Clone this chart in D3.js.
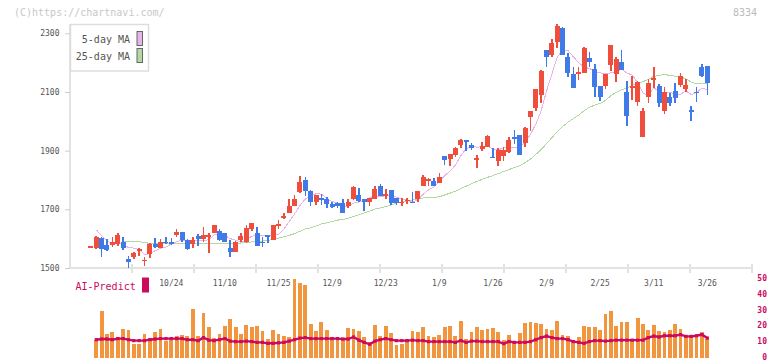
<!DOCTYPE html>
<html>
<head>
<meta charset="utf-8">
<script src="https://cdn.jsdelivr.net/npm/d3@7"></script>
<style>
  body { margin: 0; background: #fff; }
  svg { display: block; font-family: "DejaVu Sans Mono", monospace; }
</style>
</head>
<body>
<svg id="chart"></svg>
<script>
// ===========================================================================
//     data area
// ===========================================================================
const openP = [1574, 1568, 1601, 1578, 1577, 1583, 1589, 1531, 1539, 1559,
  1526, 1548, 1582, 1568, 1590, 1589, 1612, 1623, 1595, 1582,
  1609, 1600, 1606, 1618, 1626, 1620, 1568, 1556, 1595, 1590,
  1632, 1618, 1590, 1614, 1595, 1645, 1670, 1686, 1711, 1760,
  1800, 1761, 1726, 1738, 1735, 1718, 1721, 1723, 1712, 1734,
  1749, 1735, 1726, 1735, 1780, 1744, 1766, 1738, 1722, 1729,
  1726, 1735, 1781, 1795, 1798, 1791, 1882, 1873, 1885, 1918,
  1937, 1919, 1868, 1907, 1914, 1880, 1866, 1882, 1896, 1948,
  1954, 1927, 2016, 2047, 2088, 2243, 2227, 2271, 2318, 2220,
  2161, 2160, 2166, 2215, 2178, 2120, 2121, 2192, 2161, 2201,
  2101, 2117, 2067, 1948, 2084, 2142, 2121, 2035, 2082, 2103,
  2124, 2110, 2037, 2101, 2185, 2189];
const highP = [1574, 1608, 1605, 1599, 1607, 1620, 1607, 1541, 1556, 1567,
  1536, 1586, 1601, 1600, 1607, 1601, 1634, 1623, 1598, 1605,
  1616, 1641, 1618, 1646, 1634, 1620, 1595, 1592, 1618, 1646,
  1653, 1639, 1607, 1614, 1646, 1664, 1686, 1734, 1749, 1815,
  1811, 1766, 1749, 1753, 1743, 1726, 1726, 1734, 1734, 1781,
  1773, 1735, 1739, 1780, 1786, 1770, 1766, 1738, 1738, 1738,
  1758, 1761, 1818, 1806, 1806, 1823, 1882, 1888, 1914, 1940,
  1937, 1925, 1885, 1928, 1954, 1909, 1910, 1911, 1947, 1971,
  1954, 1980, 2036, 2110, 2175, 2243, 2281, 2332, 2323, 2232,
  2186, 2186, 2254, 2236, 2195, 2120, 2161, 2260, 2218, 2243,
  2137, 2155, 2139, 2044, 2145, 2186, 2127, 2118, 2096, 2132,
  2166, 2143, 2052, 2118, 2195, 2189];
const lowP = [1574, 1566, 1539, 1559, 1573, 1575, 1561, 1500, 1530, 1542,
  1507, 1535, 1567, 1567, 1582, 1579, 1605, 1589, 1561, 1568,
  1575, 1590, 1552, 1618, 1593, 1590, 1539, 1554, 1589, 1586,
  1627, 1576, 1570, 1586, 1595, 1633, 1666, 1686, 1711, 1757,
  1747, 1712, 1715, 1715, 1704, 1704, 1704, 1686, 1704, 1732,
  1726, 1695, 1712, 1735, 1744, 1735, 1714, 1714, 1712, 1718,
  1721, 1726, 1778, 1781, 1778, 1789, 1851, 1847, 1877, 1909,
  1900, 1902, 1840, 1899, 1911, 1874, 1847, 1866, 1893, 1923,
  1885, 1911, 1968, 2034, 2064, 2186, 2220, 2250, 2227, 2150,
  2113, 2141, 2164, 2186, 2084, 2070, 2110, 2173, 2134, 2175,
  1984, 2073, 2052, 1948, 2061, 2115, 2050, 2024, 2052, 2064,
  2118, 2101, 2002, 2067, 2152, 2090];
const closeP = [1574, 1604, 1566, 1561, 1589, 1612, 1568, 1521, 1552, 1564,
  1528, 1582, 1570, 1590, 1584, 1583, 1624, 1595, 1565, 1595,
  1600, 1612, 1612, 1646, 1595, 1590, 1555, 1589, 1609, 1635,
  1653, 1576, 1584, 1607, 1646, 1650, 1677, 1711, 1734, 1793,
  1761, 1726, 1749, 1732, 1717, 1707, 1711, 1686, 1725, 1776,
  1728, 1726, 1739, 1770, 1747, 1753, 1721, 1721, 1726, 1733,
  1724, 1761, 1810, 1804, 1781, 1810, 1868, 1888, 1909, 1937,
  1928, 1910, 1874, 1916, 1950, 1874, 1902, 1902, 1937, 1939,
  1885, 1978, 2036, 2110, 2173, 2220, 2267, 2326, 2227, 2164,
  2115, 2169, 2250, 2203, 2118, 2084, 2161, 2260, 2212, 2175,
  2018, 2121, 2135, 2035, 2132, 2146, 2061, 2101, 2061, 2079,
  2156, 2124, 2033, 2097, 2156, 2130];
const ma5 = [null, 1630, 1610, 1592, 1582, 1586, 1579, 1570, 1568, 1563,
  1546, 1549, 1559, 1567, 1571, 1582, 1590, 1595, 1590, 1592,
  1596, 1593, 1597, 1613, 1613, 1611, 1600, 1595, 1588, 1596,
  1608, 1612, 1611, 1611, 1613, 1613, 1633, 1658, 1684, 1713,
  1735, 1745, 1753, 1752, 1737, 1726, 1723, 1711, 1709, 1721,
  1725, 1728, 1739, 1748, 1742, 1747, 1746, 1742, 1734, 1731,
  1725, 1733, 1751, 1766, 1776, 1793, 1815, 1830, 1851, 1882,
  1906, 1914, 1912, 1913, 1916, 1905, 1903, 1909, 1913, 1911,
  1913, 1928, 1955, 1990, 2036, 2103, 2161, 2219, 2243, 2241,
  2220, 2200, 2185, 2180, 2171, 2165, 2163, 2165, 2167, 2178,
  2165, 2157, 2132, 2097, 2088, 2114, 2102, 2095, 2100, 2090,
  2092, 2104, 2091, 2098, 2113, 2108];
const ma25 = [null, null, null, null, null, null, 1589, 1589, 1589, 1589,
  1588, 1583, 1582, 1582, 1583, 1584, 1584, 1584, 1583, 1584,
  1584, 1584, 1584, 1584, 1584, 1584, 1582, 1583, 1585, 1587,
  1589, 1589, 1592, 1594, 1597, 1602, 1606, 1611, 1617, 1625,
  1633, 1637, 1643, 1650, 1654, 1659, 1663, 1666, 1669, 1676,
  1682, 1688, 1694, 1701, 1705, 1709, 1715, 1721, 1725, 1729,
  1732, 1735, 1739, 1742, 1741, 1743, 1749, 1755, 1762, 1770,
  1779, 1787, 1795, 1802, 1809, 1815, 1822, 1829, 1835, 1843,
  1848, 1859, 1871, 1887, 1904, 1924, 1944, 1965, 1982, 1997,
  2009, 2021, 2036, 2048, 2055, 2061, 2071, 2087, 2099, 2108,
  2113, 2122, 2131, 2135, 2143, 2153, 2157, 2159, 2157, 2154,
  2151, 2145, 2134, 2128, 2128, 2129];
const volume = [null, 11.1, 29.4, 14.9, 15.8, 13, 18.1, 17.4, 8.6, 8.6,
  14.9, 12.4, 15.8, 18.1, 10.1, 11.1, 13.6, 14.3, 13.6, 30.6,
  13.6, 27.7, 18.9, 12.2, 14.9, 19.9, 24.4, 18.9, 14.9, 20.6,
  19.3, 19.9, 16.8, 11.8, 17.4, 14.9, 13.6, 13, 49.5, 47,
  45.9, 21.2, 16.8, 22.5, 17.4, 13, 11.8, 11.8, 18.7, 18.1,
  16.8, 13, 9.5, 20.6, 13.6, 19.9, 15.6, 8, 8.6, 11.8,
  16.8, 16.2, 19.3, 13.6, 13, 14.3, 19.3, 19.9, 13.6, 23.1,
  11.8, 16.2, 19.3, 17.4, 18.1, 18.7, 16.2, 11.1, 14.3, 10.5,
  15.6, 21.8, 22.5, 21.8, 21.2, 18.1, 17.4, 23.1, 14.3, 13.6,
  9.9, 13, 19.9, 19.3, 19.3, 17.4, 27.5, 29.4, 19.9, 22.5,
  22.5, 11.1, 25, 21.2, 17.4, 20.6, 16.8, 16.2, 17.4, 21.2,
  18.1, 14.3, 13, 14.3, 16.2, 11.8];
const aiPredict = [null, 11.1, 11.5, 11.5, 11.1, 11.8, 11.8, 11.1, 10.5, 10.5,
  10.5, 11.1, 11.5, 11.8, 11.8, 11.8, 11.8, 11.8, 11.1, 11.1,
  10.5, 12.4, 10.8, 10.5, 11.1, 11.8, 10.2, 9.9, 9.9, 10.2,
  9.9, 9.4, 9.4, 8.8, 8.8, 9.1, 9.4, 10.2, 11.1, 12.1,
  12.4, 11.8, 11.8, 11.8, 11.8, 11.8, 11.8, 11.5, 11.5, 12.8,
  10.8, 9.4, 8.2, 10.2, 11.1, 11.8, 11.1, 10.5, 10.5, 10.5,
  10.8, 10.5, 10.5, 9.9, 9.9, 9.9, 9.9, 9.9, 9.4, 10.5,
  9.4, 10.2, 10.2, 9.9, 9.9, 9.9, 9.9, 8.6, 9.9, 9.4,
  9.4, 9.4, 9.9, 11.1, 12.4, 13.4, 12.4, 11.8, 11.8, 11.1,
  9.9, 9.4, 8.8, 9.9, 10.5, 10.5, 10.2, 10.5, 10.8, 10.8,
  10.8, 10.8, 10.8, 10.8, 12.4, 13.4, 12.8, 13.6, 13.6, 13.6,
  14.3, 13.2, 13.2, 13.6, 14.3, 12.1];

const dateLabels = ['10/24', '11/10', '11/25', '12/9', '12/23', '1/9', '1/26', '2/9', '2/25', '3/11', '3/26'];
const dateIndex = [15, 25, 35, 45, 55, 65, 75, 85, 95, 105, 115];
const priceTicks = [1500, 1700, 1900, 2100, 2300];
const volTicks = [0, 10, 20, 30, 40, 50];

// ===========================================================================
//      procedure
// ===========================================================================
(function () {
  const width = 772;
  const height = 361;
  const red = '#f04e3c';
  const blue = '#3f7ae8';
  const pink = '#e9b3ea';
  const green = '#b3d9a2';
  const crimson = '#cc0a5e';
  const axisGrey = '#e2e2e2';

  const svg = d3.select('#chart')
    .attr('width', width)
    .attr('height', height);

  const days = d3.range(closeP.length);
  const x = d3.scaleLinear().domain([0, days.length - 1]).range([90.9, 707.3]);
  const y = d3.scaleLinear().domain([1500, 2300]).range([268, 33.3]);
  const grid = d3.scaleLinear().domain([0, 11]).range([70, 752]);
  const yv = d3.scaleLinear().domain([0, 50]).range([357.2, 278.3]);

  // header
  svg.append('text')
    .attr('x', 14).attr('y', 16)
    .attr('font-size', '10px')
    .attr('fill', '#c8c8c8')
    .text('(C)https://chartnavi.com/');
  svg.append('text')
    .attr('x', 757).attr('y', 16)
    .attr('text-anchor', 'end')
    .attr('font-size', '10px')
    .attr('fill', '#bbbbbb')
    .text('8334');

  // ===========================================================================
  //      axes
  // ===========================================================================
  svg.append('line')
    .attr('x1', 70).attr('x2', 70).attr('y1', 24).attr('y2', 269)
    .attr('stroke', axisGrey).attr('stroke-width', 2);
  svg.append('line')
    .attr('x1', 69).attr('x2', 752).attr('y1', 268).attr('y2', 268)
    .attr('stroke', axisGrey).attr('stroke-width', 2);
  svg.append('g')
    .selectAll('line')
    .data(d3.range(1, 12))
    .join('line')
    .attr('x1', d => grid(d)).attr('x2', d => grid(d))
    .attr('y1', 264).attr('y2', 273)
    .attr('stroke', axisGrey).attr('stroke-width', 2);

  const yAxis = svg.append('g')
    .attr('transform', 'translate(70,0)')
    .call(d3.axisLeft(y).tickValues(priceTicks).tickFormat(d3.format('d'))
      .tickSize(5).tickPadding(5.5));
  yAxis.select('.domain').remove();
  yAxis.selectAll('line').attr('stroke', '#cccccc');
  yAxis.selectAll('text')
    .attr('fill', '#555555')
    .attr('font-size', '8px')
    .attr('font-family', '"DejaVu Sans Mono", monospace');

  svg.append('g')
    .selectAll('text')
    .data(dateIndex)
    .join('text')
    .attr('x', d => x(d))
    .attr('y', 285.5)
    .attr('text-anchor', 'middle')
    .attr('font-size', '8px')
    .attr('fill', '#555555')
    .text((d, i) => dateLabels[i]);

  // ===========================================================================
  //      moving averages
  // ===========================================================================
  const maLine = function (arr) {
    return d3.line()
      .defined(d => arr[d] != null)
      .x(d => x(d))
      .y(d => y(arr[d]))(days);
  };
  svg.append('path')
    .attr('d', maLine(ma25))
    .attr('fill', 'none').attr('stroke', green).attr('stroke-width', 1)
    .attr('shape-rendering', 'crispEdges');
  svg.append('path')
    .attr('d', maLine(ma5))
    .attr('fill', 'none').attr('stroke', pink).attr('stroke-width', 1)
    .attr('shape-rendering', 'crispEdges');

  // ===========================================================================
  //      candles
  // ===========================================================================
  const colorOf = d => (closeP[d] >= openP[d] ? red : blue);
  const candles = svg.append('g').attr('shape-rendering', 'crispEdges');
  candles.selectAll('line')
    .data(days)
    .join('line')
    .attr('x1', d => x(d)).attr('x2', d => x(d))
    .attr('y1', d => y(highP[d])).attr('y2', d => y(lowP[d]))
    .attr('stroke', colorOf)
    .attr('stroke-width', 1.6);
  candles.selectAll('rect')
    .data(days)
    .join('rect')
    .attr('x', d => x(d) - 2.5)
    .attr('width', 5)
    .attr('y', d => y(Math.max(openP[d], closeP[d])))
    .attr('height', d => Math.max(1.7, Math.abs(y(openP[d]) - y(closeP[d]))))
    .attr('fill', colorOf);

  // ===========================================================================
  //      legend
  // ===========================================================================
  const legend = svg.append('g');
  legend.append('rect')
    .attr('x', 70.5).attr('y', 24.5).attr('width', 78).attr('height', 46.5)
    .attr('fill', '#ffffff').attr('stroke', '#dddddd').attr('stroke-width', 1.5);
  [['5-day MA', pink, 43], ['25-day MA', green, 60]].forEach(function (item) {
    legend.append('text')
      .attr('x', 130).attr('y', item[2])
      .attr('text-anchor', 'end')
      .attr('font-size', '10px')
      .attr('fill', '#555555')
      .text(item[0]);
    legend.append('rect')
      .attr('x', 137).attr('y', item[2] - 11.5).attr('width', 5.5).attr('height', 14)
      .attr('fill', item[1]).attr('stroke', '#666666').attr('stroke-width', 1);
  });

  // ===========================================================================
  //      volume + AI-Predict
  // ===========================================================================
  const volDays = days.filter(d => volume[d] != null);
  svg.append('g')
    .attr('shape-rendering', 'crispEdges')
    .selectAll('rect')
    .data(volDays)
    .join('rect')
    .attr('x', d => x(d) - 1.9)
    .attr('width', 3.8)
    .attr('y', d => yv(volume[d]))
    .attr('height', d => yv(0) - yv(volume[d]) + 1)
    .attr('fill', '#f1963f');

  const aiDays = days.filter(d => aiPredict[d] != null);
  svg.append('path')
    .attr('d', d3.line().x(d => x(d)).y(d => yv(aiPredict[d]))(aiDays))
    .attr('fill', 'none')
    .attr('stroke', crimson)
    .attr('stroke-width', 2.4);
  svg.append('g')
    .selectAll('rect')
    .data(aiDays)
    .join('rect')
    .attr('x', d => x(d) - 1.6).attr('y', d => yv(aiPredict[d]) - 1.6)
    .attr('width', 3.2).attr('height', 3.2)
    .attr('fill', crimson);

  svg.append('text')
    .attr('x', 75.5).attr('y', 289.5)
    .attr('font-size', '10px')
    .attr('fill', crimson)
    .text('AI-Predict');
  svg.append('rect')
    .attr('x', 142).attr('y', 277.5).attr('width', 7).attr('height', 15)
    .attr('fill', crimson);

  svg.append('g')
    .selectAll('text')
    .data(volTicks)
    .join('text')
    .attr('x', 767)
    .attr('y', d => yv(d) + 2.8)
    .attr('text-anchor', 'end')
    .attr('font-size', '8px')
    .attr('font-weight', 'bold')
    .attr('fill', crimson)
    .text(d => d);
})();
</script>
</body>
</html>
